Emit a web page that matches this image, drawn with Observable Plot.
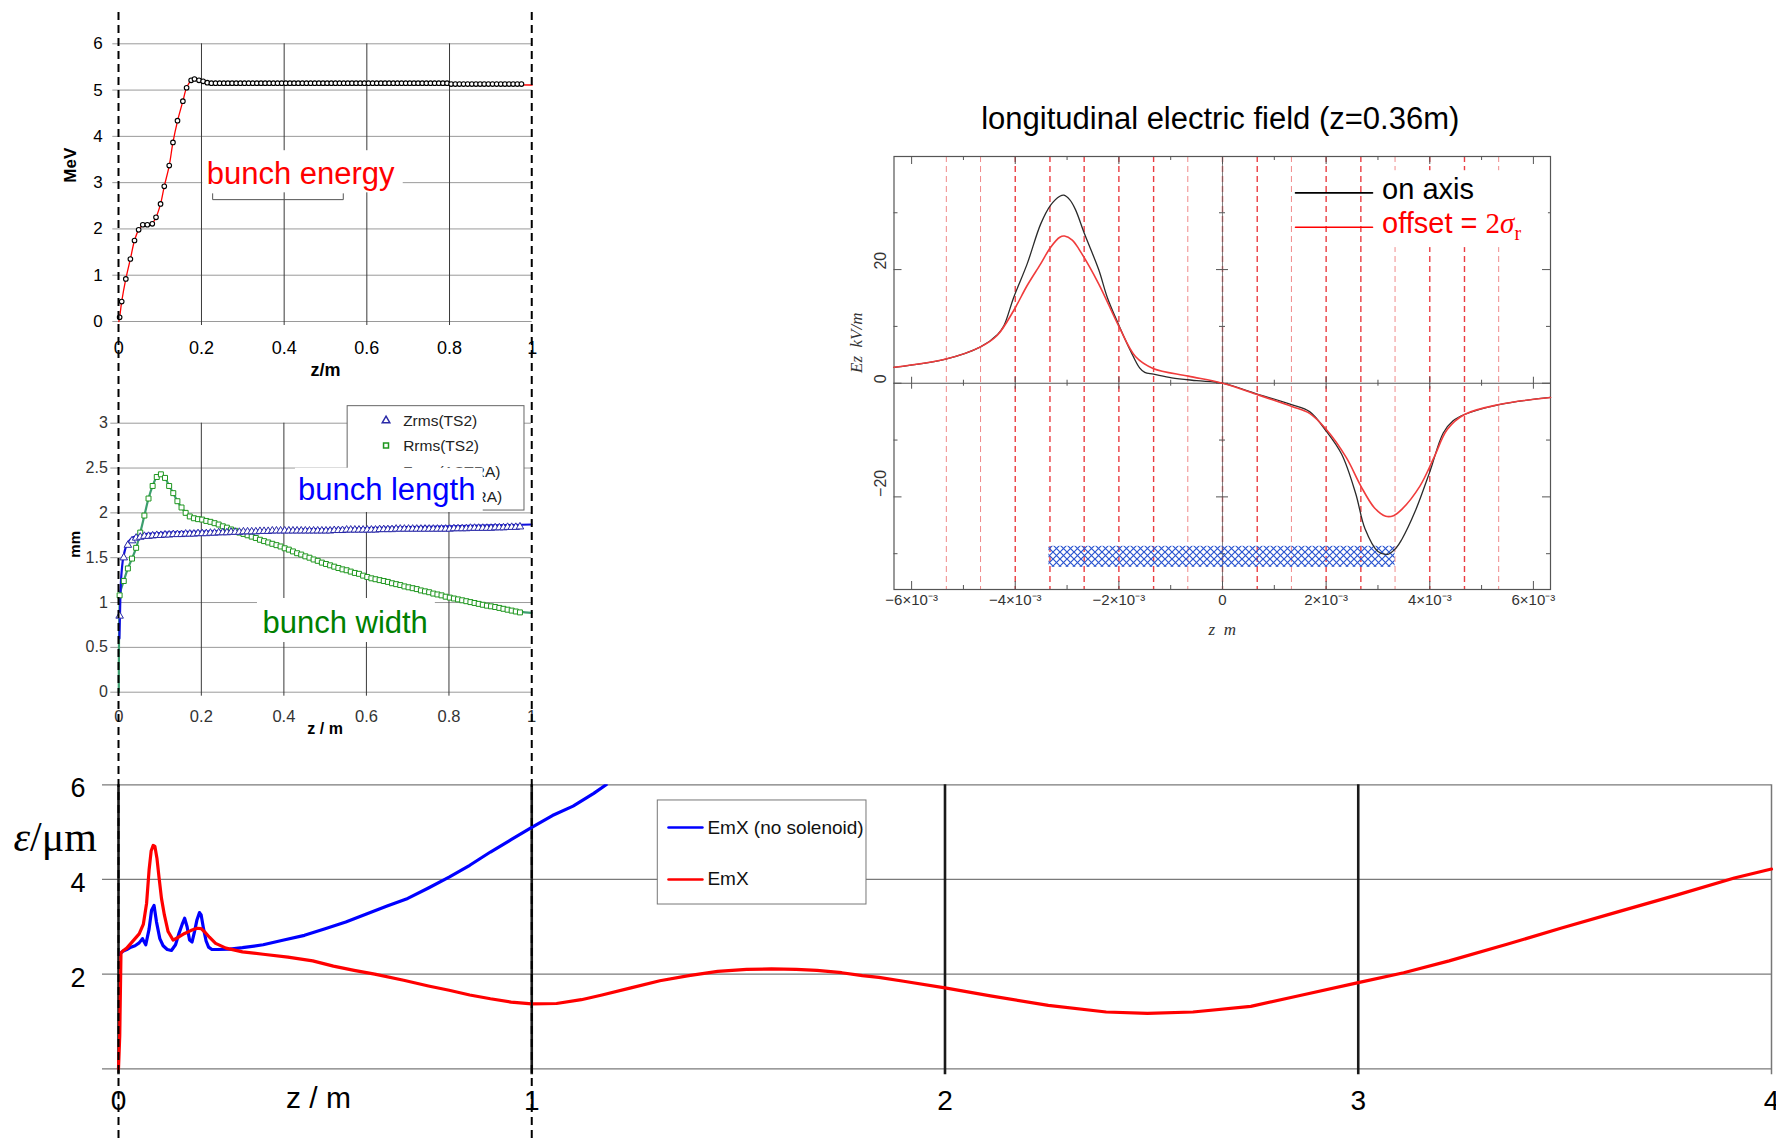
<!DOCTYPE html>
<html><head><meta charset="utf-8">
<script src="https://cdn.jsdelivr.net/npm/d3@7"></script>
<script src="https://cdn.jsdelivr.net/npm/@observablehq/plot@0.6"></script>
<style>
body{margin:0;background:#fff;}
#root{position:relative;width:1776px;height:1139px;overflow:hidden;background:#fff;}
</style></head><body><div id="root"></div>
<script>
// ================= DATA =================
// --- Panel A: bunch energy vs z ---
const energyTicks = [0, 1, 2, 3, 4, 5, 6];
const zTicksShort = [0, 0.2, 0.4, 0.6, 0.8, 1];
const energyZ = [0.002,0.007,0.017,0.028,0.038,0.048,0.058,0.069,0.081,0.090,0.101,0.110,0.122,0.131,0.142,0.155,0.164,0.175,0.183,0.194,0.204,0.214,
  0.224,0.234,0.244,0.254,0.264,0.274,0.284,0.294,0.304,0.314,0.324,0.334,0.344,0.354,0.364,0.374,0.384,0.394,
  0.404,0.414,0.424,0.434,0.444,0.454,0.464,0.474,0.484,0.494,0.504,0.514,0.524,0.534,0.544,0.554,0.564,0.574,0.584,0.594,
  0.604,0.614,0.624,0.634,0.644,0.654,0.664,0.674,0.684,0.694,0.704,0.714,0.724,0.734,0.744,0.754,0.764,0.774,0.784,0.794,
  0.804,0.814,0.824,0.834,0.844,0.854,0.864,0.874,0.884,0.894,0.904,0.914,0.924,0.934,0.944,0.954,0.964,0.974];
const energyMeV = [0.09,0.43,0.92,1.35,1.75,1.98,2.09,2.09,2.11,2.25,2.54,2.92,3.37,3.87,4.34,4.76,5.05,5.21,5.24,5.21,5.19,5.16,
  5.15,5.15,5.15,5.15,5.15,5.15,5.15,5.15,5.15,5.15,5.15,5.15,5.15,5.15,5.15,5.15,5.15,5.15,
  5.15,5.15,5.15,5.15,5.15,5.15,5.15,5.15,5.15,5.15,5.15,5.15,5.15,5.15,5.15,5.15,5.15,5.15,5.15,5.15,
  5.15,5.15,5.15,5.15,5.15,5.15,5.15,5.15,5.15,5.15,5.15,5.15,5.15,5.15,5.15,5.15,5.15,5.15,5.15,5.15,
  5.13,5.13,5.13,5.13,5.13,5.13,5.13,5.13,5.13,5.13,5.13,5.13,5.13,5.13,5.13,5.13,5.13,5.13];
const energyLineZ = [0,0.002,0.007,0.017,0.028,0.038,0.048,0.058,0.07,0.081,0.09,0.101,0.11,0.122,0.131,0.142,0.155,0.164,0.175,0.183,0.195,0.21,0.25,0.8,0.85,1.0];
const energyLineMeV = [0,0.09,0.43,0.92,1.35,1.75,1.98,2.08,2.09,2.12,2.25,2.54,2.92,3.37,3.87,4.33,4.76,5.05,5.2,5.22,5.19,5.16,5.15,5.14,5.12,5.11];

// --- Panel B: bunch length / width vs z ---
const sizeTicks = [0, 0.5, 1, 1.5, 2, 2.5, 3];
const sizeZ = [0.002,0.012,0.022,0.032,0.042,0.052,0.062,0.072,0.082,0.092,
  0.102,0.112,0.122,0.132,0.142,0.152,0.162,0.172,0.182,0.192,
  0.202,0.212,0.222,0.232,0.242,0.252,0.262,0.272,0.282,0.292,
  0.302,0.312,0.322,0.332,0.342,0.352,0.362,0.372,0.382,0.392,
  0.402,0.412,0.422,0.432,0.442,0.452,0.462,0.472,0.482,0.492,
  0.502,0.512,0.522,0.532,0.542,0.552,0.562,0.572,0.582,0.592,
  0.602,0.612,0.622,0.632,0.642,0.652,0.662,0.672,0.682,0.692,
  0.702,0.712,0.722,0.732,0.742,0.752,0.762,0.772,0.782,0.792,
  0.802,0.812,0.822,0.832,0.842,0.852,0.862,0.872,0.882,0.892,
  0.902,0.912,0.922,0.932,0.942,0.952,0.962,0.972];
const zrmsTS2 = [0.85,1.50,1.64,1.69,1.72,1.73,1.74,1.74,1.745,1.75,
  1.75,1.755,1.755,1.76,1.76,1.76,1.765,1.765,1.765,1.77,
  1.77,1.77,1.775,1.775,1.78,1.78,1.78,1.785,1.785,1.785,
  1.79,1.79,1.79,1.79,1.795,1.795,1.795,1.80,1.80,1.80,
  1.80,1.80,1.80,1.80,1.80,1.80,1.80,1.80,1.80,1.80,
  1.80,1.80,1.805,1.805,1.805,1.81,1.81,1.81,1.81,1.81,
  1.81,1.81,1.81,1.815,1.815,1.815,1.815,1.82,1.82,1.82,
  1.82,1.82,1.82,1.82,1.82,1.82,1.82,1.82,1.82,1.82,
  1.82,1.825,1.825,1.825,1.825,1.83,1.83,1.83,1.83,1.83,
  1.83,1.835,1.835,1.835,1.84,1.84,1.84,1.845];
const rrmsTS2 = [1.08,1.24,1.38,1.49,1.61,1.78,1.97,2.16,2.30,2.40,
  2.43,2.39,2.30,2.22,2.13,2.06,2.00,1.96,1.94,1.93,
  1.925,1.91,1.90,1.885,1.87,1.85,1.835,1.815,1.80,1.78,
  1.765,1.75,1.735,1.72,1.70,1.685,1.67,1.655,1.64,1.625,
  1.605,1.59,1.57,1.55,1.535,1.515,1.50,1.48,1.465,1.445,
  1.43,1.415,1.40,1.385,1.37,1.36,1.345,1.33,1.32,1.30,
  1.285,1.27,1.26,1.25,1.24,1.23,1.215,1.205,1.195,1.18,
  1.17,1.16,1.15,1.135,1.125,1.115,1.10,1.09,1.08,1.065,
  1.055,1.045,1.035,1.025,1.015,1.005,0.995,0.985,0.975,0.965,
  0.958,0.95,0.94,0.93,0.92,0.91,0.90,0.89];
const zrmsAstraZ = [0.0015,0.004,0.008,0.013,0.02,0.03,0.045,0.07,0.1,0.2,0.3,0.4,0.5,0.6,0.7,0.8,0.9,1.0];
const zrmsAstra = [0.6,1.1,1.4,1.55,1.65,1.71,1.745,1.765,1.775,1.79,1.80,1.81,1.82,1.83,1.84,1.85,1.86,1.87];
const rrmsAstraZ = [0,0.0015,0.004,0.012,0.022,0.032,0.042,0.052,0.062,0.072,0.082,0.092,0.102,0.112,0.122,0.132,0.142,0.152,0.162,0.172,
  0.192,0.22,0.25,0.3,0.35,0.4,0.45,0.5,0.55,0.6,0.65,0.7,0.75,0.8,0.85,0.9,0.95,1.0];
const rrmsAstra = [0,0.9,1.12,1.24,1.38,1.49,1.61,1.78,1.97,2.16,2.30,2.40,2.43,2.39,2.30,2.22,2.13,2.06,2.00,1.96,
  1.93,1.90,1.855,1.765,1.685,1.605,1.515,1.43,1.355,1.285,1.23,1.17,1.11,1.055,1.005,0.958,0.91,0.885];
const sizeLegend = ["Zrms(TS2)", "Rrms(TS2)", "Zrms(ASTRA)", "Rrms(ASTRA)"];

// --- Panel C: longitudinal electric field ---
const fieldTicksZ = [-6e-3, -4e-3, -2e-3, 0, 2e-3, 4e-3, 6e-3];
const fieldMinorZ = [-5e-3, -3e-3, -1e-3, 1e-3, 3e-3, 5e-3];
const fieldTicksE = [-20, 0, 20];
const fieldMinorE = [-30, -10, 10, 30];
const onAxisZ = [-6.34e-3,-5.34e-3,-4.67e-3,-4.34e-3,-4.22e-3,-4.03e-3,-3.77e-3,-3.51e-3,-3.32e-3,-3.14e-3,-3.06e-3,-2.95e-3,-2.84e-3,-2.66e-3,-2.39e-3,-2.22e-3,-1.99e-3,-1.77e-3,-1.6e-3,-1.5e-3,-1.33e-3,-0.98e-3,-0.5e-3,0,
  0.67e-3,1.33e-3,1.68e-3,2.0e-3,2.3e-3,2.57e-3,2.75e-3,3.0e-3,3.19e-3,3.35e-3,3.46e-3,3.72e-3,4.0e-3,4.26e-3,4.45e-3,4.67e-3,5.34e-3,6.33e-3];
const onAxisEz = [2.8,4.25,6.4,8.6,10.1,15.1,21.0,28.0,31.3,32.9,33.1,32.3,30.6,26.2,20.0,15.0,10.0,5.6,2.7,1.9,1.6,0.95,0.45,0,
  -1.9,-3.75,-5.0,-8.4,-12.5,-19.4,-25.6,-29.6,-30.1,-29.0,-27.5,-22.5,-15.6,-8.75,-6.6,-5.5,-3.75,-2.5];
const offsetZ = [-6.34e-3,-5.34e-3,-4.67e-3,-4.35e-3,-4.03e-3,-3.77e-3,-3.51e-3,-3.32e-3,-3.14e-3,-3.05e-3,-2.9e-3,-2.75e-3,-2.39e-3,-2.0e-3,-1.68e-3,-1.34e-3,-0.66e-3,0,
  0.67e-3,1.34e-3,1.68e-3,2.0e-3,2.39e-3,2.67e-3,2.93e-3,3.15e-3,3.3e-3,3.46e-3,3.81e-3,4.08e-3,4.34e-3,4.67e-3,5.34e-3,6.33e-3];
const offsetEz = [2.8,4.25,6.4,8.4,12.8,17.2,21.0,23.9,25.7,25.9,25.2,23.3,17.5,10.0,4.7,2.6,1.25,0,
  -2.0,-4.1,-5.3,-8.1,-13.1,-18.1,-21.9,-23.4,-23.3,-22.2,-18.1,-13.1,-8.1,-5.5,-3.75,-2.5];
const strongCuts = [-4.0e-3,-3.33e-3,-2.67e-3,-2.0e-3,-1.33e-3,0,0.67e-3,2.0e-3,2.67e-3,4.0e-3,4.67e-3];
const faintCuts = [-5.33e-3,-4.67e-3,-0.67e-3,1.33e-3,3.33e-3,5.33e-3];
const bunchZ = [-3.35e-3, 3.33e-3];
const bunchEz = [-32.4, -28.7];
const fieldLegend = ["on axis", "offset = 2σr"];

// --- Panel D: emittance vs z ---
const emitTicksY = [2, 4, 6];
const emitTicksX = [0, 1, 2, 3, 4];
const emxNoSolZ = [0.002,0.01,0.02,0.03,0.04,0.05,0.058,0.066,0.074,0.08,0.086,0.092,0.1,0.108,0.118,0.128,0.138,0.146,0.154,0.16,
  0.166,0.172,0.178,0.184,0.19,0.196,0.2,0.206,0.212,0.218,0.226,0.24,0.27,0.3,0.35,0.4,0.45,0.5,0.55,0.6,
  0.65,0.7,0.75,0.8,0.85,0.9,0.95,1.0,1.05,1.1,1.15,1.18];
const emxNoSol = [2.42,2.48,2.52,2.57,2.6,2.66,2.75,2.62,2.95,3.35,3.45,3.1,2.75,2.6,2.52,2.5,2.62,2.85,3.05,3.18,
  3.0,2.72,2.68,2.9,3.15,3.3,3.25,2.95,2.7,2.57,2.52,2.52,2.53,2.56,2.62,2.72,2.82,2.96,3.1,3.27,
  3.44,3.6,3.82,4.05,4.3,4.58,4.84,5.1,5.35,5.55,5.82,6.0];
const emxZ = [0,0.003,0.006,0.012,0.02,0.03,0.04,0.05,0.06,0.068,0.074,0.079,0.084,0.088,0.093,0.098,0.104,0.111,0.12,0.132,
  0.145,0.16,0.175,0.19,0.2,0.21,0.22,0.235,0.26,0.3,0.35,0.41,0.47,0.52,0.57,0.62,0.69,0.75,0.8,0.85,
  0.9,0.95,1.0,1.06,1.12,1.17,1.24,1.31,1.38,1.45,1.52,1.58,1.64,1.69,1.75,1.8,1.84,1.9,2.0,2.11,
  2.25,2.39,2.49,2.6,2.74,2.87,3.0,3.11,3.22,3.36,3.49,3.63,3.77,3.91,4.0];
const emx = [0,0.7,2.45,2.5,2.55,2.65,2.75,2.85,3.05,3.5,4.2,4.6,4.72,4.7,4.45,4.05,3.6,3.25,2.9,2.72,
  2.78,2.86,2.92,2.97,2.96,2.88,2.78,2.65,2.55,2.47,2.42,2.36,2.28,2.17,2.08,2.0,1.87,1.75,1.66,1.56,
  1.48,1.41,1.37,1.38,1.46,1.56,1.71,1.86,1.97,2.06,2.1,2.11,2.1,2.08,2.03,1.97,1.93,1.85,1.71,1.54,
  1.34,1.2,1.17,1.2,1.32,1.57,1.82,2.03,2.28,2.63,2.97,3.32,3.67,4.03,4.22];
const emitLegend = ["EmX (no solenoid)", "EmX"];
const sectionBounds = [0, 1];

// ================= RENDER =================
const sans = "'Liberation Sans', Arial, Helvetica, sans-serif";
const serif = "'Liberation Serif', 'Times New Roman', serif";
const root = document.getElementById("root");
const baseStyle = {background: "transparent", overflow: "visible", maxWidth: "none", fontFamily: sans, fontSize: "16px", color: "#000"};
const zip = (xs, ys) => xs.map((x, i) => ({x, y: ys[i]}));
function place(svg, left, top) {
  svg.style.position = "absolute";
  svg.style.left = left + "px";
  svg.style.top = top + "px";
  root.appendChild(svg);
  return svg;
}
function richText(svg, plain, html) {
  d3.select(svg).selectAll("text").filter(function () { return this.textContent === plain; }).html(html);
}
const str = d => String(d);

// ---------- Panel A ----------
const pA = Plot.plot({
  width: 560, height: 390,
  marginLeft: 118.3, marginRight: 28.3, marginTop: 43.3, marginBottom: 69,
  x: {domain: [0, 1]}, y: {domain: [0, 6]},
  style: baseStyle,
  marks: [
    Plot.gridY(energyTicks, {stroke: "#9a9a9a", strokeOpacity: 1, insetLeft: -6}),
    Plot.gridX(zTicksShort.slice(1, 5), {stroke: "#3a3a3a", strokeOpacity: 1, insetBottom: -4}),
    Plot.axisY(energyTicks, {tickSize: 0, tickPadding: 16, fontSize: 17, tickFormat: str, label: null}),
    Plot.axisX(zTicksShort, {tickSize: 0, tickPadding: 20, fontSize: 18, tickFormat: str, label: null}),
    Plot.line(zip(energyLineZ, energyLineMeV), {x: "x", y: "y", stroke: "#ff0000", strokeWidth: 1.3, curve: "catmull-rom"}),
    Plot.dot(zip(energyZ, energyMeV), {x: "x", y: "y", r: 2.3, stroke: "#000", strokeWidth: 1.1, fill: "#fff"}),
    Plot.rect([{x1: 0.203, x2: 0.688, y1: 2.78, y2: 3.69}], {x1: "x1", x2: "x2", y1: "y1", y2: "y2", fill: "#fff"}),
    Plot.line([[0.227, 2.76], [0.227, 2.633], [0.543, 2.633], [0.543, 2.76]], {x: d => d[0], y: d => d[1], stroke: "#555", strokeWidth: 1}),
    Plot.text(["bunch energy"], {x: 0.2126, y: 2.976, textAnchor: "start", lineAnchor: "bottom", fill: "#ff0000", fontSize: 31}),
    Plot.text(["z/m"], {frameAnchor: "bottom", dy: 54, lineAnchor: "bottom", fontSize: 18, fontWeight: "bold"}),
    Plot.text(["MeV"], {frameAnchor: "left", dx: -48, rotate: -90, fontSize: 17, fontWeight: "bold"})
  ]
});
place(pA, 0, 0);

// ---------- Panel B ----------
const legYText = [2.969, 2.69, 2.40, 2.116];
const pB = Plot.plot({
  width: 560, height: 350,
  marginLeft: 118.3, marginRight: 29, marginTop: 27.7, marginBottom: 53.3,
  x: {domain: [0, 1]}, y: {domain: [0, 3]},
  style: baseStyle,
  marks: [
    Plot.gridY(sizeTicks, {stroke: "#9a9a9a", strokeOpacity: 1, insetLeft: -8}),
    Plot.gridX(zTicksShort.slice(1, 5), {stroke: "#3a3a3a", strokeOpacity: 1, insetBottom: -4}),
    Plot.axisY(sizeTicks, {tickSize: 0, tickPadding: 11, fontSize: 16, tickFormat: str, label: null, color: "#333"}),
    Plot.axisX(zTicksShort, {tickSize: 0, tickPadding: 18, fontSize: 16.5, tickFormat: str, label: null, color: "#333"}),
    Plot.line(zip(rrmsAstraZ, rrmsAstra), {x: "x", y: "y", stroke: "#3c9e6e", strokeWidth: 2.2, curve: "catmull-rom"}),
    Plot.line(zip(zrmsAstraZ, zrmsAstra), {x: "x", y: "y", stroke: "#1010e0", strokeWidth: 2.2, curve: "monotone-x"}),
    Plot.dot(zip(sizeZ, rrmsTS2), {x: "x", y: "y", symbol: "square", r: 2.8, stroke: "#1e961e", strokeWidth: 1, fill: "#fff"}),
    Plot.dot(zip(sizeZ, zrmsTS2), {x: "x", y: "y", symbol: "triangle", r: 2.8, stroke: "#2a2aa8", strokeWidth: 1, fill: "#fff"}),
    // legend
    Plot.rect([{x1: 0.5545, x2: 0.983, y1: 2.026, y2: 3.19}], {x1: "x1", x2: "x2", y1: "y1", y2: "y2", fill: "#fff", stroke: "#666"}),
    Plot.dot([{x: 0.6475, y: 3.03}], {x: "x", y: "y", symbol: "triangle", r: 2.8, stroke: "#2a2aa8", fill: "#fff"}),
    Plot.dot([{x: 0.6475, y: 2.751}], {x: "x", y: "y", symbol: "square", r: 2.8, stroke: "#1e961e", fill: "#fff"}),
    Plot.line([[0.612, 2.46], [0.683, 2.46]], {x: d => d[0], y: d => d[1], stroke: "#1010e0", strokeWidth: 2}),
    Plot.line([[0.612, 2.17], [0.683, 2.17]], {x: d => d[0], y: d => d[1], stroke: "#3c9e6e", strokeWidth: 2}),
    Plot.text(sizeLegend, {x: 0.689, y: (d, i) => legYText[i], textAnchor: "start", lineAnchor: "bottom", fontSize: 15.5, fill: "#222"}),
    // annotations
    Plot.rect([{x1: 0.428, x2: 0.883, y1: 2.004, y2: 2.498}], {x1: "x1", x2: "x2", y1: "y1", y2: "y2", fill: "#fff"}),
    Plot.text(["bunch length"], {x: 0.434, y: 2.138, textAnchor: "start", lineAnchor: "bottom", fill: "#0000ff", fontSize: 31}),
    Plot.rect([{x1: 0.336, x2: 0.767, y1: 0.554, y2: 1.045}], {x1: "x1", x2: "x2", y1: "y1", y2: "y2", fill: "#fff"}),
    Plot.text(["bunch width"], {x: 0.348, y: 0.662, textAnchor: "start", lineAnchor: "bottom", fill: "#008000", fontSize: 31}),
    Plot.text(["z / m"], {frameAnchor: "bottom", dy: 41.6, lineAnchor: "bottom", fontSize: 16, fontWeight: "bold"}),
    Plot.text(["mm"], {frameAnchor: "left", dx: -43.3, rotate: -90, fontSize: 15, fontWeight: "bold"})
  ]
});
place(pB, 0, 395);

// ---------- Panel C ----------
const zDom = [-6.34e-3, 6.33e-3], eDom = [-36.3, 39.9];
const C = {w: 726, h: 560, l: 43.5, r: 26, t: 66, b: 61};
const fW = C.w - C.l - C.r, fH = C.h - C.t - C.b;
const y0Off = (eDom[1] - 0) / (eDom[1] - eDom[0]) * fH;
const x0Off = (0 - zDom[0]) / (zDom[1] - zDom[0]) * fW;
const fmtZ = d => d === 0 ? "0" : (d < 0 ? "−" : "") + Math.abs(Math.round(d * 1e3)) + "×10⁻³";
const fmtE = d => d < 0 ? "−" + (-d) : String(d);
const tickStroke = {stroke: "#555", strokeWidth: 1};
const pC = Plot.plot({
  width: C.w, height: C.h,
  marginLeft: C.l, marginRight: C.r, marginTop: C.t, marginBottom: C.b,
  x: {domain: zDom}, y: {domain: eDom, axis: null},
  style: baseStyle,
  marks: [
    Plot.ruleX(faintCuts, {stroke: "#f08a8a", strokeWidth: 1, strokeDasharray: "6,4"}),
    Plot.ruleX(strongCuts, {stroke: "#e8282e", strokeWidth: 1.4, strokeDasharray: "6,4", strokeOpacity: 0.9}),
    Plot.ruleX([0], {stroke: "#666", strokeWidth: 0.8}),
    Plot.ruleY([0], {stroke: "#555", strokeWidth: 1.2}),
    Plot.frame({stroke: "#555", strokeWidth: 1.2}),
    Plot.tickX(fieldTicksZ, {...tickStroke, insetTop: fH - 8}),
    Plot.tickX(fieldMinorZ, {...tickStroke, insetTop: fH - 4}),
    Plot.tickX(fieldTicksZ, {...tickStroke, insetBottom: fH - 8}),
    Plot.tickX(fieldMinorZ, {...tickStroke, insetBottom: fH - 4}),
    Plot.tickX(fieldTicksZ, {...tickStroke, insetTop: y0Off - 6, insetBottom: fH - y0Off - 6}),
    Plot.tickX(fieldMinorZ, {...tickStroke, insetTop: y0Off - 3, insetBottom: fH - y0Off - 3}),
    Plot.tickY(fieldTicksE, {...tickStroke, insetRight: fW - 8}),
    Plot.tickY(fieldMinorE, {...tickStroke, insetRight: fW - 4}),
    Plot.tickY(fieldTicksE, {...tickStroke, insetLeft: fW - 8}),
    Plot.tickY(fieldMinorE, {...tickStroke, insetLeft: fW - 4}),
    Plot.tickY(fieldTicksE, {...tickStroke, insetLeft: x0Off - 6, insetRight: fW - x0Off - 6}),
    Plot.tickY(fieldMinorE, {...tickStroke, insetLeft: x0Off - 3, insetRight: fW - x0Off - 3}),
    Plot.rect([{x1: bunchZ[0], x2: bunchZ[1], y1: bunchEz[0], y2: bunchEz[1]}], {x1: "x1", x2: "x2", y1: "y1", y2: "y2", fill: "url(#hatchBunch)"}),
    Plot.line(zip(onAxisZ, onAxisEz), {x: "x", y: "y", stroke: "#2a2a2a", strokeWidth: 1.3, curve: "catmull-rom"}),
    Plot.line(zip(offsetZ, offsetEz), {x: "x", y: "y", stroke: "#f03c3c", strokeWidth: 1.6, curve: "catmull-rom"}),
    Plot.axisX(fieldTicksZ, {tickSize: 0, tickPadding: 5, fontSize: 15, tickFormat: fmtZ, label: null, color: "#333"}),
    Plot.text(fieldTicksE, {y: d => d, text: fmtE, frameAnchor: "left", dx: -13.5, rotate: -90, fontSize: 16, fill: "#333"}),
    Plot.text(["Ez  kV/m"], {frameAnchor: "left", dx: -37.5, rotate: -90, fontStyle: "italic", fontFamily: serif, fontSize: 17, fill: "#333"}),
    Plot.text(["z  m"], {frameAnchor: "bottom", dy: 45, lineAnchor: "bottom", fontStyle: "italic", fontFamily: serif, fontSize: 17, fill: "#333"}),
    Plot.rect([{x1: 2.99e-3, x2: 6.29e-3, y1: 23.87, y2: 37.4}], {x1: "x1", x2: "x2", y1: "y1", y2: "y2", fill: "#fff"}),
    Plot.line([[1.409e-3, 33.49], [2.895e-3, 33.49]], {x: d => d[0], y: d => d[1], stroke: "#000", strokeWidth: 1.6}),
    Plot.line([[1.409e-3, 27.44], [2.895e-3, 27.44]], {x: d => d[0], y: d => d[1], stroke: "#ff0000", strokeWidth: 1.6}),
    Plot.text([fieldLegend[0]], {x: 3.08e-3, y: 32.44, textAnchor: "start", lineAnchor: "bottom", fontSize: 29, fill: "#000"}),
    Plot.text([fieldLegend[1]], {x: 3.08e-3, y: 26.39, textAnchor: "start", lineAnchor: "bottom", fontSize: 29, fill: "#ff0000"}),
    Plot.text(["longitudinal electric field (z=0.36m)"], {frameAnchor: "top", dy: -27.4, dx: -2, lineAnchor: "bottom", fontSize: 31, fill: "#000"})
  ]
});
d3.select(pC).insert("defs", ":first-child").html(
  `<pattern id="hatchBunch" patternUnits="userSpaceOnUse" width="7" height="7"><path d="M0,0L7,7M7,0L0,7" stroke="#2a55d0" stroke-width="1.2" fill="none"/></pattern>`);
richText(pC, fieldLegend[1],
  `offset = <tspan font-family="${serif.replace(/"/g, "")}">2<tspan font-style="italic">σ</tspan><tspan font-size="20" dy="7">r</tspan></tspan>`);
place(pC, 850, 90);

// ---------- Panel D ----------
const pD = Plot.plot({
  width: 1776, height: 379,
  marginLeft: 118, marginRight: 5, marginTop: 24.3, marginBottom: 70.7,
  x: {domain: [0, 4]}, y: {domain: [0, 6]},
  style: baseStyle,
  marks: [
    Plot.gridY([0, 2, 4, 6], {stroke: "#7a7a7a", strokeOpacity: 1, strokeWidth: 1.3, insetLeft: -16}),
    Plot.gridX([0, 1, 2, 3], {stroke: "#1a1a1a", strokeOpacity: 1, strokeWidth: 2.6, insetBottom: -6}),
    Plot.gridX([4], {stroke: "#777", strokeOpacity: 1, strokeWidth: 1.5, insetBottom: -6}),
    Plot.axisY(emitTicksY, {tickSize: 0, tickPadding: 33, fontSize: 27, dy: 4, tickFormat: str, label: null}),
    Plot.axisX(emitTicksX, {tickSize: 0, tickPadding: 21.8, fontSize: 28, tickFormat: str, label: null}),
    Plot.line(zip(emxNoSolZ, emxNoSol), {x: "x", y: "y", stroke: "#0000ff", strokeWidth: 3.2, clip: true}),
    Plot.line(zip(emxZ, emx), {x: "x", y: "y", stroke: "#ff0000", strokeWidth: 3.2}),
    Plot.rect([{x1: 1.305, x2: 1.810, y1: 3.471, y2: 5.669}], {x1: "x1", x2: "x2", y1: "y1", y2: "y2", fill: "#fff", stroke: "#777"}),
    Plot.line([[1.331, 5.098], [1.413, 5.098]], {x: d => d[0], y: d => d[1], stroke: "#0000ff", strokeWidth: 2.6}),
    Plot.line([[1.331, 4.0], [1.413, 4.0]], {x: d => d[0], y: d => d[1], stroke: "#ff0000", strokeWidth: 2.6}),
    Plot.text(emitLegend, {x: 1.425, y: (d, i) => [4.965, 3.873][i], textAnchor: "start", lineAnchor: "bottom", fontSize: 19, fill: "#111"}),
    Plot.text(["z / m"], {x: 0.484, frameAnchor: "bottom", dy: 38.7, lineAnchor: "bottom", fontSize: 30}),
    Plot.text(["ε/μm"], {frameAnchor: "top-left", dx: -105, dy: 65.7, textAnchor: "start", lineAnchor: "bottom", fontFamily: serif, fontSize: 42})
  ]
});
richText(pD, "ε/μm", `<tspan font-style="italic">ε</tspan>/μm`);
place(pD, 0, 760);

// ---------- Overlay: dashed section bounds spanning all left panels ----------
const pO = Plot.plot({
  width: 1776, height: 1139,
  marginLeft: 118, marginRight: 5, marginTop: 12, marginBottom: 0,
  x: {domain: [0, 4], axis: null},
  style: {...baseStyle, pointerEvents: "none"},
  marks: [Plot.ruleX(sectionBounds, {stroke: "#000", strokeWidth: 2, strokeDasharray: "8,5"})]
});
place(pO, 0, 0);
</script></body></html>
